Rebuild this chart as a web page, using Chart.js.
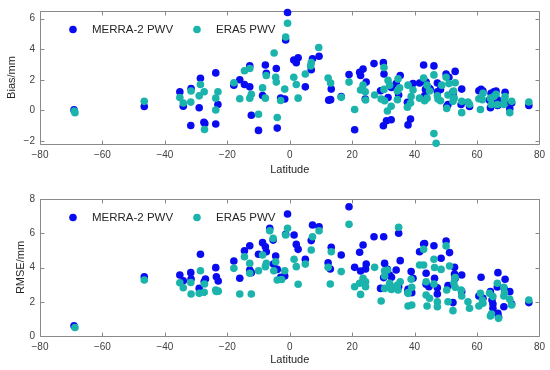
<!DOCTYPE html>
<html lang="en">
<head>
<meta charset="UTF-8">
<title>PWV Bias and RMSE vs Latitude</title>
<script src="https://cdn.jsdelivr.net/npm/chart.js"></script>
<style>
  body { margin: 0; background: #fff; }
  #wrap { position: relative; width: 550px; height: 370px; }
  canvas { position: absolute; left: 0; }
  #biasChart { top: 0; }
  #rmseChart { top: 185px; }
</style>
</head>
<body>
<div id="wrap">
  <canvas id="biasChart" width="550" height="185"></canvas>
  <canvas id="rmseChart" width="550" height="185"></canvas>
</div>
<script>
// series names and tick labels
const seriesNames = ['MERRA-2 PWV', 'ERA5 PWV'];
const latTicks = [-80, -60, -40, -20, 0, 20, 40, 60, 80];
const biasTicks = [-2, 0, 2, 4, 6];
const rmseTicks = [0, 2, 4, 6, 8];

// Bias (mm) - MERRA-2
const biasMerraLat = [-69.1, -46.6, -35.2, -34.1, -31.6, -31.7, -28.6, -29.0, -27.5, -27.2, -23.7, -23.7, -23.0, -17.9, -16.0, -14.5, -12.8, -12.8, -12.3, -10.0,
  -8.7, -7.8, -7.5, -4.3, -4.0, -2.9, -1.6, -0.7, -1.3, 1.3, 2.1, 2.7, 5.0, 6.9, 7.3, 9.4, 13.3, 12.5, 13.1, 16.5,
  19.0, 20.8, 22.4, 22.7, 23.5, 24.5, 24.2, 27.0, 30.0, 30.2, 29.1, 30.0, 31.0, 32.5, 31.5, 32.6, 34.1, 35.4, 34.9, 37.7,
  37.9, 38.7, 39.5, 41.6, 42.9, 43.2, 43.7, 43.5, 44.5, 45.0, 46.2, 47.3, 47.3, 48.3, 50.1, 51.0, 53.0, 50.7, 50.3, 52.3,
  52.4, 55.1, 54.9, 57.6, 60.6, 61.3, 61.9, 64.0, 64.5, 65.4, 64.3, 66.1, 66.5, 66.6, 68.8, 69.0, 70.5, 71.1, 76.6];
const biasMerra = [0.03, 0.25, 1.22, 0.27, 1.43, -0.99, 2.1, 0.17, -0.78, -0.86, 2.45, -0.89, 0.38, 1.64, 2.0, 1.69, 2.91, 1.54, -0.32, -1.31,
  0.97, 2.97, 2.42, 2.74, -1.16, 0.8, 0.74, 6.4, 4.6, 3.29, 3.12, 3.44, 1.54, 2.66, 3.37, 3.54, 1.39, 0.67, 0.7, 0.9,
  2.34, -1.27, 2.49, 2.28, 2.7, 1.85, 0.74, 3.06, 3.12, 2.38, 1.28, -1.01, -0.68, -0.61, 0.84, 1.5, 1.75, 2.28, 1.01, 0.53,
  -0.95, -0.57, 1.75, 1.79, 2.97, 0.95, 1.85, 1.37, 1.47, 1.39, 2.91, 1.79, 1.22, 1.37, 2.38, 2.17, 2.55, 0.38, 0.25, 1.22,
  0.95, 1.39, 0.38, 0.25, 1.28, 1.37, 1.27, 0.67, 1.12, 1.22, 0.17, 1.27, 0.7, 0.32, 0.48, 1.18, 0.1, 0.48, 0.32];

// Bias (mm) - ERA5
const biasEraLat = [-68.8, -69.0, -46.6, -35.2, -34.1, -31.6, -31.7, -28.6, -29.0, -27.4, -27.3, -23.0, -23.7, -23.7, -17.9, -16.0, -14.5, -12.8, -12.3, -12.8,
  -10.0, -8.7, -7.8, -7.5, -5.0, -4.5, -4.3, -4.0, -2.9, -1.6, -0.7, -1.3, 1.3, 2.1, 2.7, 5.0, 6.7, 6.9, 9.3, 12.3,
  13.1, 16.5, 19.0, 20.8, 22.7, 23.5, 24.2, 24.3, 27.2, 30.2, 29.3, 30.2, 30.4, 31.3, 32.5, 31.5, 32.0, 34.7, 35.2, 34.5,
  34.5, 37.9, 37.7, 38.7, 38.9, 39.5, 41.6, 42.9, 43.2, 44.0, 44.0, 44.8, 46.2, 46.2, 46.9, 47.3, 47.5, 48.7, 48.3, 50.1,
  51.0, 53.0, 50.3, 50.7, 52.5, 52.7, 52.3, 55.1, 55.1, 57.1, 57.6, 60.6, 61.9, 61.1, 61.7, 64.3, 64.6, 65.4, 66.1, 66.5,
  68.6, 69.0, 68.8, 70.5, 71.1, 76.6];
const biasEra = [-0.15, -0.05, 0.59, 0.84, 0.48, 1.27, 0.54, 1.69, 0.95, 1.22, -1.25, 1.22, 0.8, 0.02, 1.81, 0.76, 2.59, 2.74, 1.05, 0.8,
  -0.25, 1.47, 0.8, 2.28, 3.75, 2.17, 1.85, -0.47, 0.65, 1.39, 5.7, 4.8, 2.17, 1.69, 0.8, 2.38, 2.91, 3.12, 4.11, 2.11,
  1.79, 0.85, 1.85, 0.06, 1.33, 1.65, 1.22, 0.68, 1.01, 2.8, 0.74, 1.37, 0.63, -0.04, 0.27, 1.96, 1.65, 2.06, 1.47, 1.27,
  0.7, 1.65, 0.21, 0.48, 0.9, 1.33, 0.8, 2.11, 0.63, 1.65, 0.8, 1.27, 2.32, -1.52, -2.15, 0.95, 0.74, 1.65, 0.63, 2.17,
  1.75, 1.81, 0.13, 1.01, 1.27, 0.8, 0.59, 0.59, -0.15, 0.55, 0.4, 0.76, 1.12, 0.06, 0.7, 0.8, 0.38, 0.9, 1.05, 0.38,
  0.38, 0.9, 0.7, -0.15, 0.59, 0.55];

// RMSE (mm) - MERRA-2
const rmseMerraLat = [-69.1, -46.6, -35.2, -34.1, -31.7, -31.6, -28.6, -29.0, -27.4, -27.0, -23.7, -23.5, -22.9, -17.9, -16.0, -14.5, -12.8, -12.8, -12.3, -10.0,
  -8.7, -7.8, -7.5, -6.4, -5.3, -5.2, -4.5, -4.0, -2.9, -1.6, -0.7, -1.3, 1.4, 2.1, 2.7, 5.0, 6.9, 7.3, 9.4, 12.3,
  13.0, 13.3, 16.5, 19.0, 20.8, 22.4, 23.5, 22.7, 24.3, 24.5, 27.0, 30.1, 30.4, 30.1, 29.1, 31.3, 32.0, 32.6, 34.9, 35.4,
  34.1, 34.9, 37.9, 37.9, 38.9, 39.1, 39.5, 41.6, 42.9, 43.2, 43.7, 43.7, 44.6, 46.2, 46.4, 47.3, 47.3, 48.5, 50.1, 51.2,
  50.7, 52.3, 52.8, 52.8, 53.0, 55.1, 55.1, 60.6, 61.3, 61.9, 64.3, 64.8, 65.1, 65.1, 66.7, 66.7, 66.9, 66.5, 69.0, 68.8,
  68.6, 70.5, 71.1, 76.6];
const rmseMerra = [0.6, 3.46, 3.56, 3.23, 3.7, 3.33, 4.77, 2.78, 3.17, 3.33, 3.99, 3.46, 3.21, 4.38, 3.37, 4.98, 5.27, 3.85, 3.7, 4.77,
  5.45, 5.21, 4.92, 6.29, 5.6, 4.2, 4.67, 3.89, 3.43, 3.5, 7.12, 5.94, 5.9, 5.35, 5.06, 4.48, 5.57, 6.48, 6.38, 4.28,
  3.91, 5.18, 4.73, 7.55, 4.01, 4.89, 5.31, 3.8, 3.91, 4.2, 5.8, 5.8, 4.24, 3.41, 2.78, 3.89, 3.56, 3.43, 6.0, 4.4,
  3.85, 2.88, 2.72, 2.59, 3.76, 2.53, 3.37, 4.92, 5.37, 5.4, 3.66, 3.02, 2.88, 5.27, 3.37, 2.82, 2.45, 4.54, 5.55, 4.87,
  2.94, 1.95, 4.01, 3.62, 3.37, 3.56, 2.59, 2.34, 3.43, 2.2, 2.59, 2.1, 1.87, 1.62, 3.7, 1.32, 1.09, 2.86, 3.31, 2.72,
  1.71, 2.59, 1.87, 1.95];

// RMSE (mm) - ERA5
const rmseEraLat = [-68.8, -46.6, -35.2, -34.1, -31.7, -31.6, -28.6, -29.0, -27.4, -27.3, -23.7, -23.5, -22.9, -17.9, -16.0, -14.5, -12.8, -12.8, -12.3, -10.0,
  -8.7, -7.8, -7.5, -6.4, -5.3, -5.1, -4.5, -4.0, -2.6, -1.6, -0.7, -1.3, 1.4, 2.1, 2.7, 5.0, 6.9, 7.3, 9.4, 12.3,
  13.0, 13.3, 16.5, 19.0, 20.8, 22.4, 22.7, 23.5, 24.3, 24.3, 27.2, 29.3, 30.4, 30.4, 31.3, 30.4, 32.0, 32.6, 32.7, 34.9,
  35.4, 34.5, 34.7, 37.9, 37.9, 37.9, 38.9, 39.1, 39.1, 41.6, 42.9, 42.9, 43.7, 43.7, 44.8, 44.0, 46.2, 46.4, 46.2, 47.3,
  47.3, 48.5, 50.1, 50.3, 50.7, 51.2, 52.3, 52.6, 53.0, 53.0, 54.9, 55.1, 57.1, 57.6, 60.6, 61.1, 61.7, 61.9, 64.0, 64.3,
  64.6, 65.1, 66.5, 66.9, 68.6, 68.6, 68.8, 70.5, 71.1, 76.6];
const rmseEra = [0.5, 3.27, 3.11, 2.82, 3.12, 2.45, 3.81, 2.49, 2.55, 3.04, 2.69, 2.6, 2.62, 3.95, 2.45, 4.63, 4.24, 3.66, 2.45, 3.81,
  4.73, 4.05, 4.24, 6.15, 5.7, 3.81, 4.34, 3.27, 3.3, 3.81, 6.29, 5.9, 4.48, 4.05, 3.02, 4.2, 5.02, 5.8, 6.15, 4.01,
  3.04, 4.92, 3.76, 6.52, 2.88, 3.08, 2.43, 3.37, 3.17, 2.88, 4.01, 2.04, 3.81, 3.5, 3.85, 2.78, 3.08, 2.72, 2.88, 6.35,
  3.17, 2.98, 2.69, 2.53, 1.75, 2.49, 3.31, 2.84, 1.81, 4.15, 4.15, 5.06, 3.17, 2.39, 2.2, 1.75, 4.48, 4.0, 3.04, 2.0,
  1.71, 3.89, 5.26, 2.69, 2.0, 4.09, 1.48, 3.11, 3.41, 2.84, 2.69, 2.34, 2.0, 1.62, 1.75, 2.49, 2.1, 1.91, 2.49, 1.17,
  1.28, 2.3, 3.08, 1.03, 2.84, 2.34, 2.53, 2.14, 1.81, 2.1];

const merraColor = '#0a0cf0';
const eraColor = '#1ab4ac';
const dotRadius = 3.8;

function toPoints(xs, ys) {
  return xs.map((x, i) => ({ x: x, y: ys[i] }));
}

function fmt(v) {
  return String(v).replace('-', '\u2212');
}

// box round the plot with inward ticks on all four sides
const framePlugin = {
  id: 'frame',
  beforeDatasetsDraw(chart) {
    const { ctx, chartArea: a, scales: { x, y } } = chart;
    const L = Math.round(a.left) + 0.5, R = Math.round(a.right) + 0.5;
    const T = Math.round(a.top) + 0.5, B = Math.round(a.bottom) + 0.5;
    ctx.save();
    ctx.strokeStyle = '#8a8a8a';
    ctx.lineWidth = 1;
    ctx.beginPath();
    ctx.rect(L, T, R - L, B - T);
    x.ticks.forEach(t => {
      const px = Math.round(x.getPixelForValue(t.value)) + 0.5;
      ctx.moveTo(px, B); ctx.lineTo(px, B - 4);
      ctx.moveTo(px, T); ctx.lineTo(px, T + 4);
    });
    y.ticks.forEach(t => {
      const py = Math.round(y.getPixelForValue(t.value)) + 0.5;
      ctx.moveTo(L, py); ctx.lineTo(L + 4, py);
      ctx.moveTo(R, py); ctx.lineTo(R - 4, py);
    });
    ctx.stroke();
    ctx.restore();
  }
};

// legend inside the plot, top left
const legendPlugin = {
  id: 'insideLegend',
  afterDatasetsDraw(chart) {
    const { ctx, chartArea: a } = chart;
    const cy = a.top + 18.5;
    const items = [
      { name: seriesNames[0], color: merraColor, x: a.left + 33 },
      { name: seriesNames[1], color: eraColor, x: a.left + 157 }
    ];
    ctx.save();
    ctx.font = '11.5px "Liberation Sans", Arial, sans-serif';
    ctx.textBaseline = 'middle';
    ctx.textAlign = 'left';
    items.forEach(it => {
      ctx.fillStyle = it.color;
      ctx.beginPath();
      ctx.arc(it.x, cy, dotRadius, 0, Math.PI * 2);
      ctx.fill();
      ctx.fillStyle = '#262626';
      ctx.fillText(it.name, it.x + 19, cy + 0.5);
    });
    ctx.restore();
  }
};

function makeChart(id, merraLat, merraVal, eraLat, eraVal, yMin, yMax, yTickVals, yTitle, opt) {
  return new Chart(document.getElementById(id), {
    type: 'scatter',
    data: {
      datasets: [
        {
          label: seriesNames[0],
          data: toPoints(merraLat, merraVal),
          backgroundColor: merraColor,
          pointRadius: dotRadius,
          pointBorderWidth: 0,
          clip: false,
          order: 1
        },
        {
          label: seriesNames[1],
          data: toPoints(eraLat, eraVal),
          backgroundColor: eraColor,
          pointRadius: dotRadius,
          pointBorderWidth: 0,
          clip: false,
          order: 0
        }
      ]
    },
    options: {
      responsive: false,
      devicePixelRatio: 1,
      animation: false,
      layout: { padding: { left: 0, right: 10, top: opt.top, bottom: 0 } },
      plugins: { legend: { display: false }, tooltip: { enabled: false } },
      scales: {
        x: {
          type: 'linear',
          min: -80,
          max: 80,
          afterBuildTicks: s => { s.ticks = latTicks.map(v => ({ value: v })); },
          afterFit: s => { s.height = opt.xHeight; },
          grid: { display: false, drawTicks: false },
          border: { display: false },
          ticks: {
            autoSkip: false,
            maxRotation: 0,
            padding: 5,
            color: '#404040',
            font: { family: '"Liberation Sans", Arial, sans-serif', size: 10 },
            callback: v => fmt(v)
          },
          title: {
            display: true,
            text: 'Latitude',
            color: '#262626',
            font: { family: '"Liberation Sans", Arial, sans-serif', size: 11 },
            padding: { top: 0, bottom: opt.xTitlePad }
          }
        },
        y: {
          type: 'linear',
          min: yMin,
          max: yMax,
          afterBuildTicks: s => { s.ticks = yTickVals.map(v => ({ value: v })); },
          afterFit: s => { s.width = 40; },
          grid: { display: false, drawTicks: false },
          border: { display: false },
          ticks: {
            padding: 5,
            color: '#404040',
            font: { family: '"Liberation Sans", Arial, sans-serif', size: 10 },
            callback: v => fmt(v)
          },
          title: {
            display: true,
            text: yTitle,
            color: '#262626',
            font: { family: '"Liberation Sans", Arial, sans-serif', size: 11 },
            padding: { top: opt.yTitlePad, bottom: 0 }
          }
        }
      }
    },
    plugins: [framePlugin, legendPlugin]
  });
}

makeChart('biasChart', biasMerraLat, biasMerra, biasEraLat, biasEra, -2.2, 6.5, biasTicks, 'Bias/mm',
  { top: 7, xHeight: 41, xTitlePad: 8, yTitlePad: 5 });
makeChart('rmseChart', rmseMerraLat, rmseMerra, rmseEraLat, rmseEra, 0, 8, rmseTicks, 'RMSE/mm',
  { top: 14, xHeight: 34, xTitlePad: 3, yTitlePad: 14 });
</script>
</body>
</html>
